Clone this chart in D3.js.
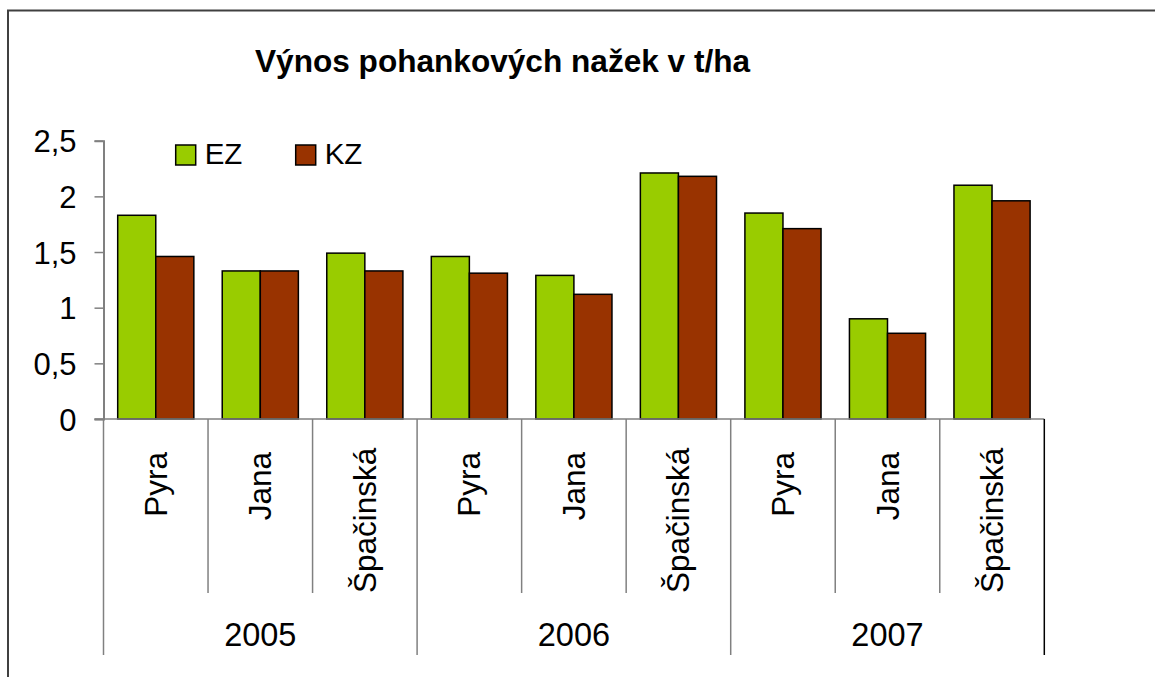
<!DOCTYPE html>
<html>
<head>
<meta charset="utf-8">
<script src="https://cdn.jsdelivr.net/npm/d3@7"></script>
<style>
  body { margin: 0; background: #fff; }
  text { font-family: "Liberation Sans", Arial, sans-serif; fill: #000; }
</style>
</head>
<body>
<svg id="chart" width="1155" height="677"></svg>
<script>
// data
var years = ["2005", "2006", "2007"];
var varieties = ["Pyra", "Jana", "Špačinská"];
var seriesNames = ["EZ", "KZ"];
var ez = [1.83, 1.33, 1.49, 1.46, 1.29, 2.21, 1.85, 0.90, 2.10];
var kz = [1.46, 1.33, 1.33, 1.31, 1.12, 2.18, 1.71, 0.77, 1.96];
var yTicks = [0, 0.5, 1, 1.5, 2, 2.5];
var colors = ["#99cc00", "#993300"];

// one category per (year, variety)
var cats = [];
years.forEach(function(yr) {
  varieties.forEach(function(v) { cats.push(yr + "|" + v); });
});
var rows = cats.map(function(c, i) { return {cat: c, EZ: ez[i], KZ: kz[i]}; });

var svg = d3.select("#chart");

// outer frame (clipped by the picture at right/bottom)
svg.append("rect")
  .attr("x", 8).attr("y", 10.5)
  .attr("width", 1160).attr("height", 700)
  .attr("fill", "none")
  .attr("stroke", "#404040")
  .attr("stroke-width", 2);

var plotLeft = 103.5, plotRight = 1044.3, plotTop = 140.7, plotBottom = 419;

var x = d3.scaleBand().domain(cats).range([plotLeft, plotRight]);
var x1 = d3.scaleBand().domain(seriesNames).range([14.2, x.bandwidth() - 14.2]);
var y = d3.scaleLinear().domain([0, 2.5]).range([plotBottom, plotTop]);

// title
svg.append("text")
  .attr("x", 255).attr("y", 72)
  .style("font-size", "31.6px")
  .style("font-weight", "bold")
  .text("Výnos pohankových nažek v t/ha");

// y axis
var yAxis = svg.append("g")
  .attr("transform", "translate(" + plotLeft + ",0)")
  .call(d3.axisLeft(y).tickValues(yTicks).tickSize(9).tickPadding(18)
    .tickFormat(function(d) { return String(d).replace(".", ","); }));
yAxis.select(".domain").attr("stroke", "#808080").attr("stroke-width", 2);
yAxis.selectAll(".tick line").attr("stroke", "#808080").attr("stroke-width", 1.5);
yAxis.selectAll(".tick text")
  .attr("dy", "0.36em")
  .style("font-size", "31px")
  .style("font-family", "Liberation Sans, Arial, sans-serif");

// bars
var groups = svg.append("g").selectAll("g")
  .data(rows)
  .enter()
  .append("g")
  .attr("transform", function(d) { return "translate(" + x(d.cat) + ",0)"; });

groups.selectAll("rect")
  .data(function(d) { return seriesNames.map(function(s) { return {key: s, value: d[s]}; }); })
  .enter()
  .append("rect")
    .attr("x", function(d) { return x1(d.key); })
    .attr("y", function(d) { return y(d.value); })
    .attr("width", x1.bandwidth())
    .attr("height", function(d) { return y(0) - y(d.value); })
    .attr("fill", function(d, i) { return colors[i]; })
    .attr("stroke", "#000")
    .attr("stroke-width", 1.5);

// x axis line
svg.append("line")
  .attr("x1", plotLeft - 9).attr("x2", plotRight)
  .attr("y1", plotBottom).attr("y2", plotBottom)
  .attr("stroke", "#808080").attr("stroke-width", 1.5);

// category separators: short inside a year, long between years
var sepY = 593, groupY = 655;
d3.range(cats.length + 1).forEach(function(i) {
  var px = plotLeft + i * x.bandwidth();
  var isGroup = i % varieties.length === 0;
  svg.append("line")
    .attr("x1", px).attr("x2", px)
    .attr("y1", plotBottom).attr("y2", isGroup ? groupY : sepY)
    .attr("stroke", i === cats.length ? "#000" : "#808080")
    .attr("stroke-width", 1.5);
});

// variety labels, rotated
cats.forEach(function(c) {
  var name = c.split("|")[1];
  var cx = x(c) + x.bandwidth() / 2;
  var t = svg.append("text")
    .attr("text-anchor", "end")
    .style("font-size", "31.5px")
    .text(name);
  var len = t.node().getComputedTextLength();
  var endY = Math.min(452, sepY - len);
  t.attr("transform", "translate(" + (cx + 11) + "," + endY + ") rotate(-90)");
});

// year labels
years.forEach(function(yr, i) {
  var gx = plotLeft + (i * varieties.length + varieties.length / 2) * x.bandwidth();
  svg.append("text")
    .attr("x", gx).attr("y", 646)
    .attr("text-anchor", "middle")
    .style("font-size", "32.5px")
    .text(yr);
});

// legend
var legendX = [175.7, 295.7];
seriesNames.forEach(function(s, i) {
  svg.append("rect")
    .attr("x", legendX[i]).attr("y", 145)
    .attr("width", 20).attr("height", 20)
    .attr("fill", colors[i])
    .attr("stroke", "#000").attr("stroke-width", 1.5);
  svg.append("text")
    .attr("x", legendX[i] + 29).attr("y", 164)
    .style("font-size", "29.5px")
    .text(s);
});
</script>
</body>
</html>
